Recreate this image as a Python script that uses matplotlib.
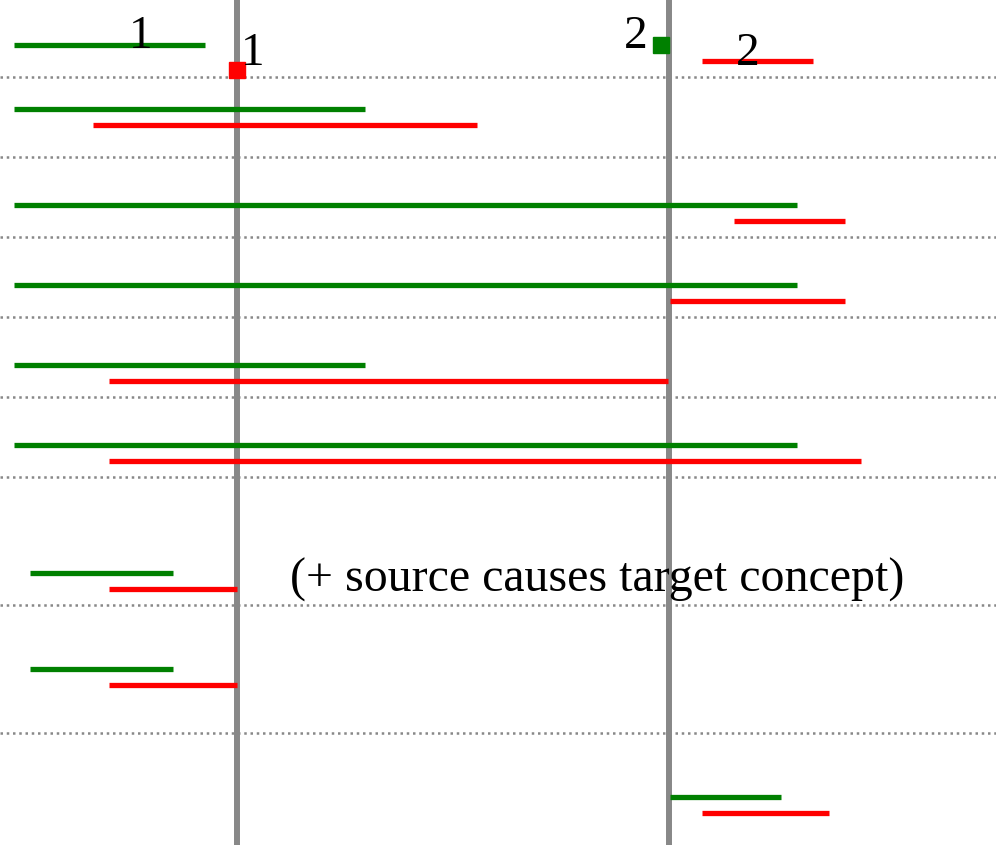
import matplotlib.pyplot as plt

# segment rows, in picture units (x right, y down)
green_y = [45, 109, 205, 285, 365, 445, 573, 669, 797]
green_x0 = [14, 14, 14, 14, 14, 14, 30, 30, 670]
green_x1 = [205, 365, 797, 797, 365, 797, 173, 173, 781]

red_y = [61, 125, 221, 301, 381, 461, 589, 685, 813]
red_x0 = [702, 93, 734, 670, 109, 109, 109, 109, 702]
red_x1 = [813, 477, 845, 845, 668, 861, 237, 237, 829]

# single-point events
red_pt = (237, 70)
green_pt = (661, 45)

separators = [77, 157, 237, 317, 397, 477, 605, 733]
time_marks = [237, 669]

labels = [("1", 141, 48), ("1", 253, 65), ("2", 636, 48), ("2", 748, 65)]
note = "(+ source causes target concept)"

fig = plt.figure(figsize=(9.96, 8.5), dpi=100)
ax = fig.add_axes([0, 0, 1, 1])
ax.set_xlim(0, 996)
ax.set_ylim(850, 0)
ax.axis('off')

for y in separators:
    ax.axhline(y, color='#888888', linestyle=(0, (1, 1.5)), linewidth=1.8, zorder=1)

for x in time_marks:
    ax.plot([x, x], [0, 845], color='#888888', linewidth=4.3, solid_capstyle='butt', zorder=2)

ax.hlines(green_y, green_x0, green_x1, color='#008000', linewidth=3.8, zorder=3)
ax.hlines(red_y, red_x0, red_x1, color='#ff0000', linewidth=3.8, zorder=3)

ax.plot(*red_pt, marker='s', color='#ff0000', markersize=11.5, zorder=4)
ax.plot(*green_pt, marker='s', color='#008000', markersize=11.5, zorder=4)

for txt, x, y in labels:
    ax.text(x, y, txt, ha='center', va='baseline', fontsize=34,
            family='Liberation Serif', zorder=5)

ax.text(597, 592, note, ha='center', va='baseline', fontsize=34.5,
        family='Liberation Serif', zorder=5)

fig.savefig('out.png', dpi=100)
